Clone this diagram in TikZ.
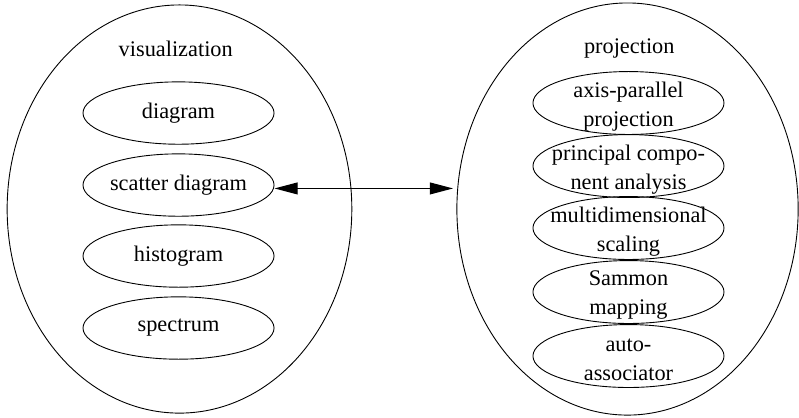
\documentclass[tikz,border=0pt]{standalone}
\usepackage{fontspec}
\setmainfont{Liberation Serif}
\usepackage{tikz}
\usetikzlibrary{arrows.meta,positioning,shapes.geometric}

\begin{document}
\begin{tikzpicture}[font=\fontsize{11.2}{14.5}\selectfont,
    groupbox/.style={draw, ellipse, inner sep=0pt, line width=0.45pt},
    itembox/.style={draw, ellipse, inner sep=0pt, line width=0.45pt,
      minimum width=3.37cm, minimum height=1.10cm},
    itemtext/.style={align=center, inner sep=0pt},
    twoline/.style={itemtext, yshift=-0.06cm}]
        \useasboundingbox (0,0) rectangle (14.094,7.356);

        % the two groups
        \node[groupbox, minimum width=6.08cm, minimum height=7.20cm] (vis) at (3.166,3.669) {};
        \node[groupbox, minimum width=6.02cm, minimum height=7.27cm] (proj) at (11.069,3.669) {};

        \node[itemtext] (visT) at (3.10,6.50) {visualization};
        \node[itemtext] (projT) at (11.10,6.50) {projection};

        % visualization
        \node[itembox] (diag) at (3.149,5.362) {};
        \node[itembox] (scat) at (3.149,4.092) {};
        \node[itembox] (hist) at (3.149,2.840) {};
        \node[itembox] (spec) at (3.149,1.570) {};
        \node[itemtext] (diagT) at (diag) {diagram};
        \node[itemtext] (scatT) at (scat) {scatter diagram};
        \node[itemtext] (histT) at (hist) {histogram};
        \node[itemtext] (specT) at (spec) {spectrum};

        % projection
        \node[itembox, minimum height=1.11cm] (axis) at (11.086,5.539) {};
        \node[itembox, minimum height=1.11cm] (pca) at (11.086,4.427) {};
        \node[itembox, minimum height=1.11cm] (mds) at (11.086,3.334) {};
        \node[itembox, minimum height=1.11cm] (samm) at (11.086,2.205) {};
        \node[itembox, minimum height=1.11cm] (auto) at (11.086,1.076) {};
        \node[twoline] (axisT) at (axis) {axis-parallel\\projection};
        \node[twoline] (pcaT) at (pca) {principal compo-\\nent analysis};
        \node[twoline] (mdsT) at (mds) {multidimensional\\scaling};
        \node[twoline] (sammT) at (samm) {Sammon\\mapping};
        \node[twoline] (autoT) at (auto) {auto-\\associator};

        \draw[{Triangle[length=0.41cm,width=0.21cm]}-{Triangle[length=0.41cm,width=0.21cm]}, line width=0.6pt]
          ([yshift=-0.06cm]scat.east) -- ([yshift=-0.06cm,xshift=-0.06cm]scat.east -| proj.west);
      \end{tikzpicture}
\end{document}
